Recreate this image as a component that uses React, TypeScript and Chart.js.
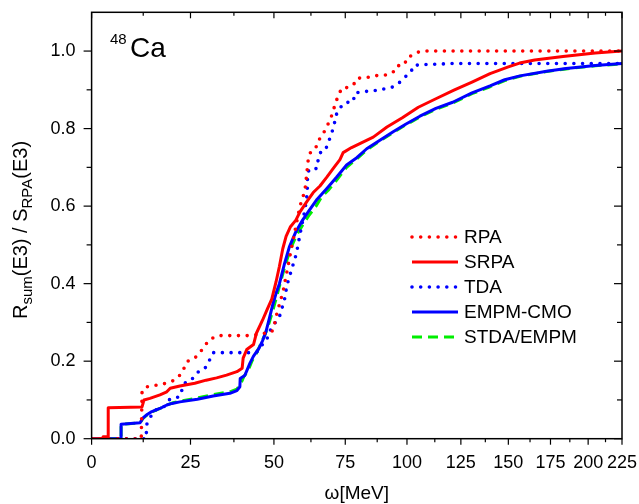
import React, { useEffect, useRef } from 'react';
import { Chart, registerables, LinearScale } from 'chart.js';

Chart.register(...registerables);

// ---- data (omega in MeV, cumulative ratio) ----
const RPA: [number, number][] = [
  [0, 0], [12, 0], [12.2, 0.12], [13, 0.133], [15, 0.137], [17, 0.139], [18.6, 0.144], [20.4, 0.15],
  [22.6, 0.168], [24, 0.199], [26, 0.206], [27.7, 0.223], [30.3, 0.256], [33, 0.266], [42.5, 0.266],
  [49.3, 0.275], [50.2, 0.296], [50.8, 0.318], [52, 0.352], [53, 0.38], [54, 0.42], [54.7, 0.447],
  [55.5, 0.48], [56.6, 0.52], [57.6, 0.56], [58.7, 0.6], [60.4, 0.64], [61, 0.68], [61.6, 0.723],
  [62.2, 0.737], [64.2, 0.748], [64.7, 0.765], [66.3, 0.78], [68, 0.802], [69, 0.818], [69.9, 0.833],
  [70.6, 0.848], [71.2, 0.863], [72.1, 0.88], [73.7, 0.905], [76.4, 0.906], [78.6, 0.917],
  [79.6, 0.93], [83, 0.931], [86, 0.936], [92, 0.939], [95.2, 0.95], [96.1, 0.962], [99, 0.965],
  [99.9, 0.982], [102.5, 0.99], [104.7, 0.997], [108, 1.0], [225, 1.0],
];
const SRPA: [number, number][] = [
  [0, 0], [2.5, 0], [2.7, 0.005], [3.9, 0.005], [3.9, 0.08], [12.2, 0.082], [12.7, 0.1], [14.2, 0.104],
  [16.8, 0.113], [18.6, 0.121], [19.5, 0.13], [22.1, 0.136], [26.2, 0.143], [29.4, 0.151],
  [32.4, 0.157], [35.3, 0.164], [38.4, 0.173], [40, 0.182], [40.3, 0.208], [41.4, 0.23],
  [43.5, 0.243], [44.4, 0.272], [46.3, 0.305], [47.9, 0.335], [49.3, 0.36], [50.7, 0.405],
  [51.8, 0.445], [52.9, 0.49], [54, 0.522], [55.4, 0.546], [57.3, 0.564], [58.7, 0.585], [61, 0.611],
  [63.3, 0.635], [65.7, 0.652], [68.1, 0.674], [70.6, 0.698], [73, 0.72], [74.2, 0.738],
  [77.4, 0.751], [81.2, 0.763], [85.9, 0.778], [91.5, 0.804], [98, 0.828], [105, 0.855],
  [113, 0.877], [121.6, 0.899], [130.6, 0.92], [140, 0.942], [150, 0.959], [156.4, 0.969],
  [165.3, 0.977], [183, 0.986], [205, 0.995], [225, 1.0],
];
const TDA: [number, number][] = [
  [0, 0], [13.3, 0], [13.3, 0.035], [14.2, 0.053], [15.1, 0.07], [16.3, 0.078], [17.8, 0.082],
  [19.5, 0.103], [22, 0.108], [23.3, 0.143], [25, 0.149], [27.1, 0.172], [28.9, 0.179],
  [30.1, 0.198], [31.4, 0.222], [43, 0.222], [44.6, 0.224], [46.1, 0.241], [47.7, 0.254],
  [48.2, 0.272], [49.9, 0.293], [52, 0.319], [53.7, 0.366], [54.2, 0.394], [56, 0.44],
  [57.5, 0.478], [58, 0.499], [59.2, 0.546], [60.4, 0.59], [61.2, 0.632], [61.3, 0.675],
  [61.8, 0.695], [64.6, 0.697], [65.2, 0.727], [66.3, 0.744], [67.9, 0.748], [68.4, 0.761],
  [69.3, 0.775], [69.9, 0.787], [70.6, 0.804], [71.2, 0.821], [71.8, 0.839], [73, 0.853],
  [74.8, 0.867], [78, 0.869], [78.7, 0.892], [81.5, 0.895], [88, 0.899], [90.7, 0.903],
  [93.7, 0.907], [96.2, 0.916], [97.7, 0.924], [99.9, 0.937], [101.7, 0.946], [103, 0.963],
  [107, 0.965], [122, 0.968], [225, 0.968],
];
const EMPM_CMO: [number, number][] = [
  [0, 0], [7, 0], [7, 0.037], [11.7, 0.041], [12.4, 0.053], [13.3, 0.061], [14.7, 0.07],
  [16.8, 0.078], [18.6, 0.087], [20, 0.091], [22.1, 0.095], [26.9, 0.102], [31.4, 0.11],
  [36.3, 0.117], [38.4, 0.124], [39.3, 0.134], [39.4, 0.155], [40.8, 0.163], [41.4, 0.175],
  [42.4, 0.195], [43.5, 0.213], [45.2, 0.233], [46.3, 0.252], [47.4, 0.275], [48.5, 0.31],
  [49.6, 0.345], [50.7, 0.375], [51.8, 0.4], [53.5, 0.452], [55.1, 0.495], [57.3, 0.534],
  [59.6, 0.564], [61.9, 0.589], [64.7, 0.618], [68.1, 0.645], [71.8, 0.675], [75.5, 0.706],
  [79.4, 0.725], [83.3, 0.748], [88.6, 0.77], [94.1, 0.792], [99.6, 0.812], [105.7, 0.832],
  [113, 0.852], [121, 0.868], [130.6, 0.892], [140, 0.91], [148, 0.926], [156.6, 0.936],
  [172.6, 0.948], [185, 0.955], [205, 0.963], [225, 0.968],
];
const STDA_EMPM: [number, number][] = [
  [0, 0], [7, 0], [7, 0.037], [11.7, 0.041], [12.4, 0.052], [13.3, 0.06], [14.7, 0.069],
  [16.8, 0.078], [18.6, 0.087], [20, 0.092], [22.1, 0.097], [26.9, 0.105], [31.4, 0.114],
  [36.3, 0.121], [38.4, 0.128], [39.5, 0.14], [40.5, 0.16], [41.8, 0.175], [43, 0.2],
  [44.5, 0.222], [45.8, 0.245], [47.2, 0.27], [48.5, 0.3], [49.8, 0.335], [51, 0.37],
  [52.2, 0.405], [53.8, 0.45], [55.5, 0.49], [57.5, 0.525], [59.6, 0.551], [61.9, 0.577],
  [64.3, 0.6], [66.3, 0.624], [68.7, 0.641], [71.2, 0.662], [75.5, 0.7], [79.4, 0.722],
  [83.3, 0.745], [88.6, 0.768], [94.1, 0.79], [99.6, 0.81], [105.7, 0.83], [113, 0.85],
  [121, 0.866], [130.6, 0.89], [140, 0.908], [148, 0.924], [156.6, 0.935], [172.6, 0.947],
  [185, 0.954], [205, 0.962], [225, 0.967],
];

const SERIES_LABELS = ['RPA', 'SRPA', 'TDA', 'EMPM-CMO', 'STDA/EMPM'];
const X_MAJOR = [0, 25, 50, 75, 100, 125, 150, 175, 200, 225];
const X_MINOR = [12.5, 37.5, 62.5, 87.5, 112.5, 137.5, 162.5, 187.5, 212.5];
const Y_MAJOR = [0, 0.2, 0.4, 0.6, 0.8, 1.0];
const Y_MINOR = [0.1, 0.3, 0.5, 0.7, 0.9];

const FONT = '"Liberation Sans", Arial, sans-serif';

// ---- offset-reciprocal x scale (Origin style) ----
const OFFSET = 270;
const fwd = (v: number) => v / (v + OFFSET);

class OffsetReciprocalScale extends LinearScale {
  static id = 'offsetReciprocal';
  static defaults = LinearScale.defaults;
  getPixelForValue(value: any) {
    if (value === null || value === undefined || isNaN(value)) return NaN;
    const a = fwd(this.min as number);
    const b = fwd(this.max as number);
    return this.getPixelForDecimal((fwd(value) - a) / (b - a));
  }
  getValueForPixel(pixel: number) {
    const a = fwd(this.min as number);
    const b = fwd(this.max as number);
    const u = a + this.getDecimalForPixel(pixel) * (b - a);
    return (OFFSET * u) / (1 - u);
  }
}
Chart.register(OffsetReciprocalScale as any);

const decorPlugin = {
  id: 'decor',
  afterDatasetsDraw(chart: any) {
    const { ctx, chartArea, scales } = chart;
    const xs = scales.x;
    const ys = scales.y;
    const { left, right, top, bottom } = chartArea;
    ctx.save();
    ctx.strokeStyle = '#000';
    ctx.lineWidth = 1.5;
    ctx.setLineDash([]);
    ctx.strokeRect(left, top, right - left, bottom - top);

    ctx.lineWidth = 1.2;
    const line = (x1: number, y1: number, x2: number, y2: number) => {
      ctx.beginPath();
      ctx.moveTo(x1, y1);
      ctx.lineTo(x2, y2);
      ctx.stroke();
    };
    X_MAJOR.forEach((v) => {
      const px = xs.getPixelForValue(v);
      line(px, bottom, px, bottom + 6);
      line(px, top, px, top + 6);
    });
    X_MINOR.forEach((v) => {
      const px = xs.getPixelForValue(v);
      line(px, bottom, px, bottom + 3.5);
      line(px, top, px, top + 3.5);
    });
    Y_MAJOR.forEach((v) => {
      const py = ys.getPixelForValue(v);
      line(left - 8, py, left, py);
      line(right - 8, py, right, py);
    });
    Y_MINOR.forEach((v) => {
      const py = ys.getPixelForValue(v);
      line(left - 5, py, left, py);
      line(right - 5, py, right, py);
    });

    // 48Ca label
    ctx.fillStyle = '#000';
    ctx.textBaseline = 'alphabetic';
    ctx.textAlign = 'left';
    ctx.font = `15px ${FONT}`;
    ctx.fillText('48', 110, 44);
    ctx.font = `28px ${FONT}`;
    ctx.fillText('Ca', 130, 57);

    // legend
    const rowsY = [237, 262, 287, 312, 337];
    chart.data.datasets.forEach((ds: any, i: number) => {
      const y = rowsY[i];
      ctx.save();
      ctx.strokeStyle = ds.borderColor;
      ctx.lineWidth = ds.borderWidth;
      ctx.lineCap = ds.borderCapStyle || 'butt';
      ctx.setLineDash(ds.borderDash || []);
      line(412, y, 458, y);
      ctx.restore();
      ctx.fillStyle = '#000';
      ctx.font = `19px ${FONT}`;
      ctx.textBaseline = 'middle';
      ctx.textAlign = 'left';
      ctx.fillText(ds.label, 464, y + 1);
    });

    // x title
    ctx.textBaseline = 'alphabetic';
    ctx.textAlign = 'center';
    ctx.font = `19px ${FONT}`;
    ctx.fillText('ω[MeV]', (left + right) / 2, 499);

    // y title with subscripts
    const parts = [
      { t: 'R', sub: false },
      { t: 'sum', sub: true },
      { t: '(E3) / S', sub: false },
      { t: 'RPA', sub: true },
      { t: '(E3)', sub: false },
    ];
    const mainF = `20px ${FONT}`;
    const subF = `15px ${FONT}`;
    let total = 0;
    parts.forEach((p) => {
      ctx.font = p.sub ? subF : mainF;
      total += ctx.measureText(p.t).width;
    });
    ctx.save();
    ctx.translate(27, 230);
    ctx.rotate(-Math.PI / 2);
    ctx.textAlign = 'left';
    let cx = -total / 2;
    parts.forEach((p) => {
      ctx.font = p.sub ? subF : mainF;
      ctx.fillText(p.t, cx, p.sub ? 5 : 0);
      cx += ctx.measureText(p.t).width;
    });
    ctx.restore();
    ctx.restore();
  },
};

const toPts = (arr: [number, number][]) => arr.map(([x, y]) => ({ x, y }));

const noPad = (s: any) => {
  s.paddingTop = 0;
  s.paddingBottom = 0;
  s.paddingLeft = 0;
  s.paddingRight = 0;
};

export default function App() {
  const ref = useRef<HTMLCanvasElement>(null);
  useEffect(() => {
    if (!ref.current) return;
    const common = { pointRadius: 0, fill: false, tension: 0, borderJoinStyle: 'round' };
    const chart = new Chart(ref.current, {
      type: 'line',
      data: {
        datasets: [
          { ...common, label: SERIES_LABELS[0], data: toPts(RPA), borderColor: '#ff0000', borderWidth: 3.6, borderDash: [0, 8.7], borderCapStyle: 'round' },
          { ...common, label: SERIES_LABELS[1], data: toPts(SRPA), borderColor: '#ff0000', borderWidth: 3 },
          { ...common, label: SERIES_LABELS[2], data: toPts(TDA), borderColor: '#0000ff', borderWidth: 3.6, borderDash: [0, 8.7], borderCapStyle: 'round' },
          { ...common, label: SERIES_LABELS[3], data: toPts(EMPM_CMO), borderColor: '#0000ff', borderWidth: 3 },
          { ...common, label: SERIES_LABELS[4], data: toPts(STDA_EMPM), borderColor: '#00ee00', borderWidth: 3, borderDash: [10, 6] },
        ] as any,
      },
      options: {
        animation: false,
        responsive: false,
        maintainAspectRatio: false,
        layout: { padding: { left: 0, right: 17, top: 12.3, bottom: 0 } },
        plugins: { legend: { display: false }, tooltip: { enabled: false } },
        scales: {
          x: {
            type: 'offsetReciprocal' as any,
            min: 0,
            max: 225,
            grid: { display: false, drawTicks: false },
            border: { display: false },
            ticks: {
              stepSize: 25,
              autoSkip: false,
              maxRotation: 0,
              minRotation: 0,
              padding: 14,
              color: '#000',
              font: { family: FONT, size: 18 },
              callback: (v: any) => String(Math.round(Number(v))),
            },
            afterFit: (s: any) => { s.height = 65.3; noPad(s); },
          },
          y: {
            min: 0,
            max: 1.1,
            grid: { display: false, drawTicks: false },
            border: { display: false },
            ticks: {
              stepSize: 0.2,
              includeBounds: false,
              padding: 16,
              color: '#000',
              font: { family: FONT, size: 18 },
              callback: (v: any) => Number(v).toFixed(1),
            },
            afterFit: (s: any) => { s.width = 91.6; noPad(s); },
          },
        },
      } as any,
      plugins: [decorPlugin],
    });
    return () => chart.destroy();
  }, []);
  return (
    <div style={{ position: 'absolute', left: 0, top: 0, width: 639, height: 504, background: '#fff' }}>
      <canvas ref={ref} width={639} height={504} style={{ width: 639, height: 504, display: 'block' }} />
    </div>
  );
}
